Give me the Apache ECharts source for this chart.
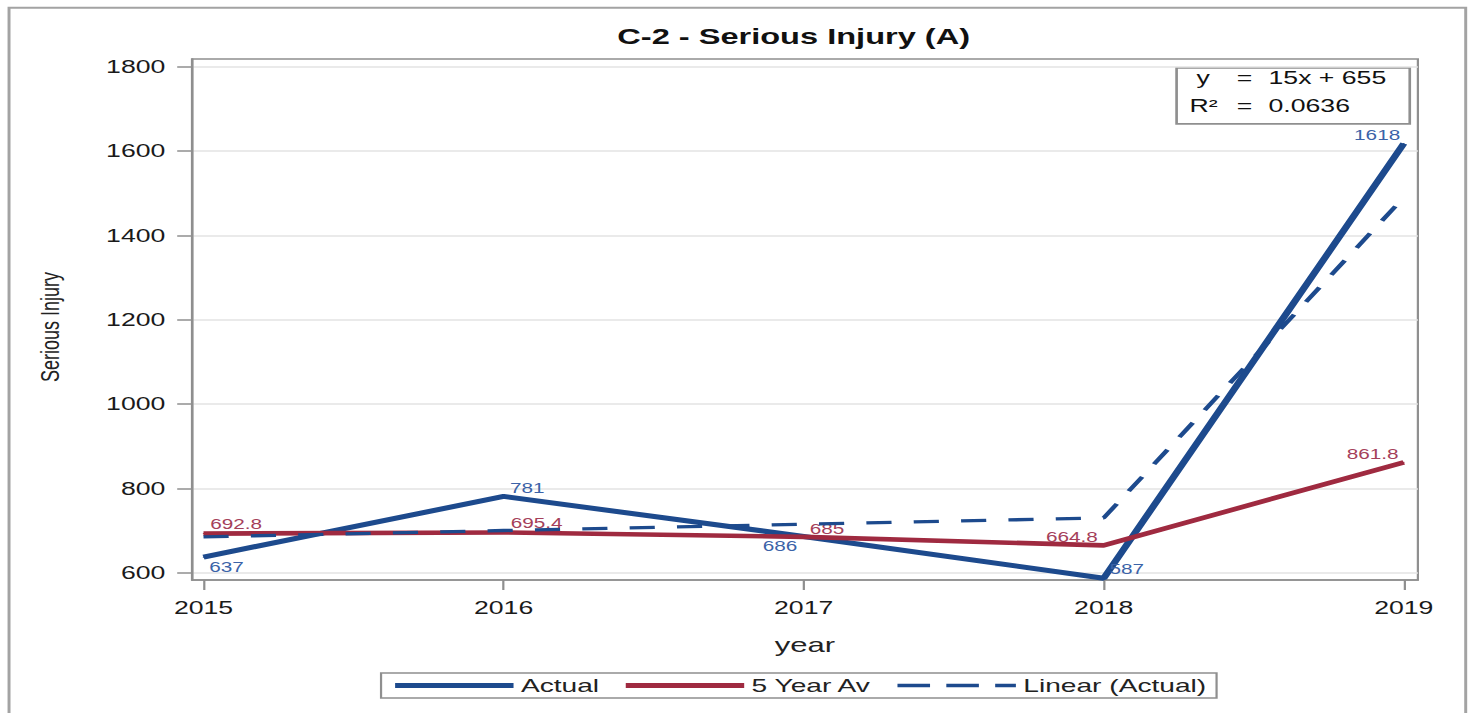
<!DOCTYPE html>
<html><head><meta charset="utf-8">
<script src="https://cdn.jsdelivr.net/npm/echarts@6/dist/echarts.min.js"></script>
<style>
html,body{margin:0;padding:0;background:#fff;overflow:hidden;}
#main{width:993px;height:713px;transform:scaleX(1.48036);transform-origin:0 0;}
</style></head><body><div id="main"></div>
<script>
// ---- data ----
const years = [2015, 2016, 2017, 2018, 2019];
const actual = [637, 781, 686, 587, 1618];
const fiveYearAv = [692.8, 695.4, 685, 664.8, 861.8];
const linearActual = [685, 700, 715, 730, 1490];
const yTicks = [600, 800, 1000, 1200, 1400, 1600, 1800];
const xTicks = [2015, 2016, 2017, 2018, 2019];
const fitSlope = 15, fitIntercept = 655, fitR2 = 0.0636;
const seriesNames = ['Actual', '5 Year Av', 'Linear (Actual)'];

// ---- style ----
const FONT = "'Liberation Sans', Arial, sans-serif";
const BLUE = '#1d4a8d', RED = '#9f2a40';
const BLUE_LBL = '#3b63a8', RED_LBL = '#a5405a';
const GREY = '#8f8f8f';
const actualLabelOffsets = [[15.5, 10.6], [16, -8], [-16, 9.6], [15.6, -9], [-18, -8.4]];
const avgLabelOffsets = [[22, -9.6], [22.4, -9.2], [15.8, -7.6], [-21.5, -7.7], [-21, -8.3]];
const lblFmt = p => String(p.value[1]);

const chart = echarts.init(document.getElementById('main'), null, {renderer: 'svg'});
chart.setOption({
  animation: false,
  backgroundColor: '#fff',
  textStyle: {fontFamily: FONT},
  title: {
    text: 'C-2 - Serious Injury (A)', left: 417, top: 25, padding: 0,
    textStyle: {fontFamily: FONT, fontSize: 22, fontWeight: 'bold', color: '#111'}
  },
  grid: {
    left: 129.7, right: 35.2, top: 59, bottom: 133,
    show: true, borderColor: GREY, borderWidth: 1.5, backgroundColor: 'transparent'
  },
  legend: {
    data: [
      {name: seriesNames[0], lineStyle: {color: BLUE, width: 5}},
      {name: seriesNames[1], lineStyle: {color: RED, width: 5}},
      {name: seriesNames[2], lineStyle: {color: BLUE, width: 3.4, type: [22, 11]}}
    ],
    left: 257.4, top: 673, padding: [3, 7, 3, 7],
    itemWidth: 80, itemHeight: 14, itemGap: 15.5,
    borderColor: GREY, borderWidth: 1.5,
    itemStyle: {opacity: 0},
    textStyle: {fontFamily: FONT, fontSize: 19, color: '#222', padding: [0, 0, 0, 0]},
    selectedMode: false
  },
  xAxis: {
    type: 'value', min: 2014.9617, max: 2019.047,
    name: 'year', nameLocation: 'middle', nameGap: 54,
    nameTextStyle: {fontFamily: FONT, fontSize: 21, color: '#222'},
    axisLine: {show: true, lineStyle: {color: GREY, width: 1.5}},
    axisTick: {show: true, length: 10, lineStyle: {color: GREY, width: 1.5}, customValues: xTicks},
    axisLabel: {customValues: xTicks, formatter: v => String(v), fontSize: 18, color: '#1a1a1a', margin: 19, fontFamily: FONT},
    splitLine: {show: false}
  },
  yAxis: {
    type: 'value', min: 582.7, max: 1818.3,
    name: 'Serious Injury', nameLocation: 'middle', nameGap: 87, nameRotate: 90,
    nameTextStyle: {fontFamily: FONT, fontSize: 18, color: '#222', padding: [0, 15, 0, 0]},
    axisLine: {show: true, lineStyle: {color: GREY, width: 1.5}},
    axisTick: {show: true, length: 10, lineStyle: {color: GREY, width: 1.5}, customValues: yTicks},
    axisLabel: {customValues: yTicks, formatter: v => String(v), fontSize: 18, color: '#1a1a1a', margin: 18, fontFamily: FONT},
    splitLine: {show: true, lineStyle: {color: '#e3e3e3', width: 1.5}}
  },
  series: [
    {
      name: seriesNames[0], type: 'line', silent: true, z: 3,
      data: years.map((y, i) => ({value: [y, actual[i]], label: {offset: actualLabelOffsets[i]}})),
      symbol: 'circle', symbolSize: 1, showSymbol: true,
      lineStyle: {color: BLUE, width: 5}, itemStyle: {color: BLUE},
      label: {show: true, position: 'inside', color: BLUE_LBL, fontSize: 14, fontFamily: FONT, formatter: lblFmt}
    },
    {
      name: seriesNames[1], type: 'line', silent: true, z: 4,
      data: years.map((y, i) => ({value: [y, fiveYearAv[i]], label: {offset: avgLabelOffsets[i]}})),
      symbol: 'circle', symbolSize: 1, showSymbol: true,
      lineStyle: {color: RED, width: 4.6}, itemStyle: {color: RED},
      label: {show: true, position: 'inside', color: RED_LBL, fontSize: 14, fontFamily: FONT, formatter: lblFmt}
    },
    {
      name: seriesNames[2], type: 'line', silent: true, z: 5,
      data: years.map((y, i) => [y, linearActual[i]]),
      symbol: 'circle', symbolSize: 1, showSymbol: false,
      lineStyle: {color: BLUE, width: 3.4, type: [17, 15]}, itemStyle: {color: BLUE}
    }
  ],
  graphic: [
    {type: 'rect', left: 3.6, top: 5.3, shape: {width: 984, height: 800},
     style: {fill: 'none', stroke: '#a3a3a3', lineWidth: 2}, silent: true, z: -1},
    {type: 'group', left: 793.9, top: 67, silent: true, z: 10, children: [
      {type: 'rect', shape: {x: 0, y: 0, width: 157.5, height: 56},
       style: {fill: '#fff', stroke: GREY, lineWidth: 1.8}},
      {type: 'text', x: 13.5, y: 10, style: {text: 'y', font: '18px ' + FONT, fill: '#111', verticalAlign: 'middle'}},
      {type: 'text', x: 40.6, y: 10, style: {text: '=', font: '18px ' + FONT, fill: '#111', verticalAlign: 'middle'}},
      {type: 'text', x: 62.1, y: 10, style: {text: fitSlope + 'x + ' + fitIntercept, font: '18px ' + FONT, fill: '#111', verticalAlign: 'middle'}},
      {type: 'text', x: 8.8, y: 38, style: {text: 'R²', font: '18px ' + FONT, fill: '#111', verticalAlign: 'middle'}},
      {type: 'text', x: 40.6, y: 38, style: {text: '=', font: '18px ' + FONT, fill: '#111', verticalAlign: 'middle'}},
      {type: 'text', x: 62.1, y: 38, style: {text: String(fitR2), font: '18px ' + FONT, fill: '#111', verticalAlign: 'middle'}}
    ]}
  ]
});
</script></body></html>
